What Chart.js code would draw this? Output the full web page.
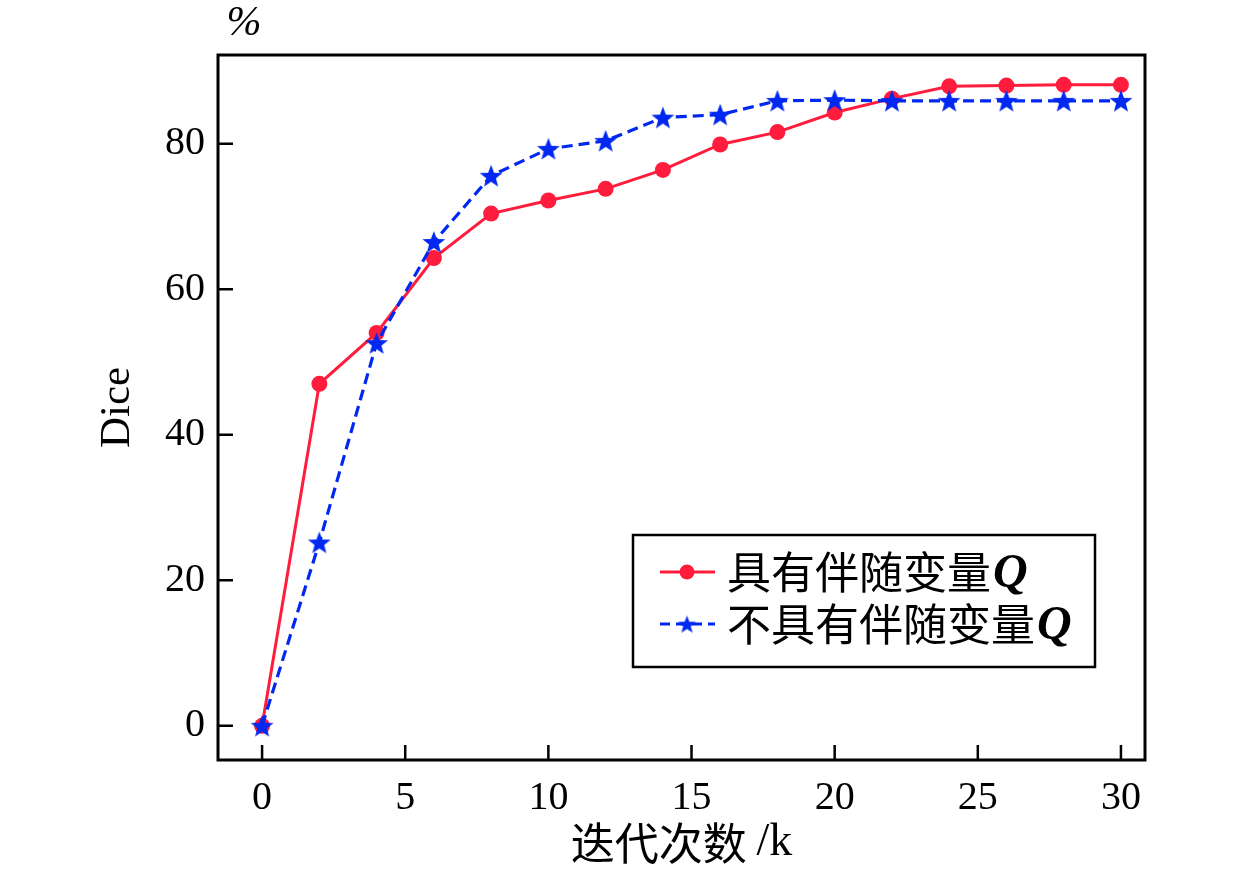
<!DOCTYPE html>
<html>
<head>
<meta charset="utf-8">
<script src="https://cdn.jsdelivr.net/npm/chart.js@4/dist/chart.umd.min.js"></script>
<style>
  html, body { margin: 0; padding: 0; background: #fff; }
  #wrap { width: 1260px; height: 870px; }
</style>
</head>
<body>
<div id="wrap"><canvas id="diceChart" width="1260" height="870"></canvas></div>
<script>
// Dados
const iterations = [0, 2, 4, 6, 8, 10, 12, 14, 16, 18, 20, 22, 24, 26, 28, 30];
const diceWithQ = [0, 47.0, 54.0, 64.3, 70.4, 72.2, 73.8, 76.4, 79.9, 81.6, 84.3, 86.2, 87.9, 88.0, 88.1, 88.1];
const diceWithoutQ = [0, 25.2, 52.6, 66.5, 75.6, 79.3, 80.4, 83.6, 84.0, 85.9, 86.0, 85.9, 85.9, 85.9, 85.9, 85.9];
const xTicks = [0, 5, 10, 15, 20, 25, 30];
const yTicks = [0, 20, 40, 60, 80];
const seriesLabels = ['具有伴随变量', '不具有伴随变量'];

const RED = 'rgb(255, 28, 60)';
const BLUE = 'rgb(0, 40, 240)';
const SERIF = '"Liberation Serif", "DejaVu Serif", serif';
const CJK = '"Noto Sans CJK SC", sans-serif';

// Estrela de 5 pontas para os marcadores
const makeStar = (size, color) => {
    const c = document.createElement('canvas');
    c.width = size;
    c.height = size;
    const g = c.getContext('2d');
    const r = size / 2, ri = r * 0.42;
    g.beginPath();
    for (let i = 0; i < 10; i++) {
        const rad = i % 2 === 0 ? r : ri;
        const a = -Math.PI / 2 + i * Math.PI / 5;
        const px = r + rad * Math.cos(a), py = r + rad * Math.sin(a) + 1;
        if (i === 0) g.moveTo(px, py); else g.lineTo(px, py);
    }
    g.closePath();
    g.fillStyle = color;
    g.fill();
    return c;
};
const starImg = makeStar(24, BLUE);
const starSmall = makeStar(19, BLUE);

const toPoints = (ys) => iterations.map((x, i) => ({ x: x, y: ys[i] }));

// Moldura, ticks para dentro, títulos e legenda
const decorPlugin = {
    id: 'decor',
    afterDraw(chart) {
        const ctx = chart.ctx;
        const a = chart.chartArea;
        const sx = chart.scales.x, sy = chart.scales.y;
        ctx.save();

        ctx.strokeStyle = '#000';
        ctx.lineWidth = 3;
        ctx.strokeRect(a.left, a.top, a.right - a.left, a.bottom - a.top);

        ctx.lineWidth = 2.5;
        ctx.beginPath();
        yTicks.forEach(v => {
            const py = sy.getPixelForValue(v);
            ctx.moveTo(a.left, py);
            ctx.lineTo(a.left + 15, py);
        });
        xTicks.forEach(v => {
            const px = sx.getPixelForValue(v);
            ctx.moveTo(px, a.bottom);
            ctx.lineTo(px, a.bottom - 15);
        });
        ctx.stroke();

        // títulos dos eixos
        ctx.fillStyle = '#000';
        ctx.textBaseline = 'middle';
        const xt = '迭代次数 ';
        ctx.font = '44px ' + CJK;
        const w1 = ctx.measureText(xt).width;
        ctx.font = '46px ' + SERIF;
        const w2 = ctx.measureText('/k').width;
        const xc = (a.left + a.right) / 2;
        ctx.textAlign = 'left';
        ctx.font = '44px ' + CJK;
        ctx.fillText(xt, xc - (w1 + w2) / 2, 843);
        ctx.font = '46px ' + SERIF;
        ctx.fillText('/k', xc - (w1 + w2) / 2 + w1, 843);

        ctx.save();
        ctx.translate(118, (a.top + a.bottom) / 2);
        ctx.rotate(-Math.PI / 2);
        ctx.textAlign = 'center';
        ctx.font = '43px ' + SERIF;
        ctx.fillText('Dice', 0, 0);
        ctx.restore();

        ctx.textAlign = 'center';
        ctx.font = 'italic 42px ' + SERIF;
        ctx.fillText('%', 244, 24);

        // legenda
        const lx = 633, ly = 535, lw = 462, lh = 132;
        ctx.fillStyle = '#fff';
        ctx.fillRect(lx, ly, lw, lh);
        ctx.strokeStyle = '#000';
        ctx.lineWidth = 2.5;
        ctx.strokeRect(lx, ly, lw, lh);

        const rows = [
            { y: 572, label: seriesLabels[0], color: RED, dash: [] },
            { y: 624, label: seriesLabels[1], color: BLUE, dash: [10, 6] }
        ];
        rows.forEach((r, i) => {
            ctx.strokeStyle = r.color;
            ctx.lineWidth = 3;
            ctx.setLineDash(r.dash);
            ctx.beginPath();
            ctx.moveTo(660, r.y);
            ctx.lineTo(715, r.y);
            ctx.stroke();
            ctx.setLineDash([]);
            if (i === 0) {
                ctx.fillStyle = RED;
                ctx.beginPath();
                ctx.arc(687, r.y, 7.5, 0, Math.PI * 2);
                ctx.fill();
            } else {
                ctx.drawImage(starSmall, 687 - 9.5, r.y - 9.5);
            }
            ctx.fillStyle = '#000';
            ctx.textAlign = 'left';
            ctx.textBaseline = 'middle';
            ctx.font = '44px ' + CJK;
            ctx.fillText(r.label, 727, r.y);
            const tw = ctx.measureText(r.label).width;
            ctx.font = 'bold italic 48px ' + SERIF;
            ctx.fillText('Q', 727 + tw + 2, r.y + 3);
        });

        ctx.restore();
    }
};

const ctx = document.getElementById('diceChart').getContext('2d');
new Chart(ctx, {
    type: 'line',
    data: {
        datasets: [
            {
                label: seriesLabels[0] + 'Q',
                data: toPoints(diceWithQ),
                borderColor: RED,
                backgroundColor: RED,
                borderWidth: 3,
                pointStyle: 'circle',
                pointRadius: 8,
                pointBorderWidth: 0,
                tension: 0,
                order: 1
            },
            {
                label: seriesLabels[1] + 'Q',
                data: toPoints(diceWithoutQ),
                borderColor: BLUE,
                backgroundColor: BLUE,
                borderWidth: 3.2,
                borderDash: [11, 6],
                pointStyle: starImg,
                pointRadius: 10,
                tension: 0,
                order: 0
            }
        ]
    },
    options: {
        responsive: false,
        animation: false,
        devicePixelRatio: 1,
        layout: { padding: { top: 55, right: 115, left: 0, bottom: 0 } },
        plugins: {
            legend: { display: false },
            tooltip: { enabled: false }
        },
        scales: {
            x: {
                type: 'linear',
                min: -1.54,
                max: 30.84,
                afterBuildTicks: (s) => { s.ticks = xTicks.map(v => ({ value: v })); },
                afterFit: (s) => { s.height = 110; },
                grid: { display: false, drawTicks: false },
                border: { display: false },
                ticks: {
                    color: '#000',
                    padding: 14,
                    maxRotation: 0,
                    font: { family: SERIF, size: 40 }
                }
            },
            y: {
                min: -4.7,
                max: 92.2,
                afterBuildTicks: (s) => { s.ticks = yTicks.map(v => ({ value: v })); },
                afterFit: (s) => { s.width = 218; },
                grid: { display: false, drawTicks: false },
                border: { display: false },
                ticks: {
                    color: '#000',
                    padding: 13,
                    font: { family: SERIF, size: 40 }
                }
            }
        }
    },
    plugins: [decorPlugin]
});
</script>
</body>
</html>
